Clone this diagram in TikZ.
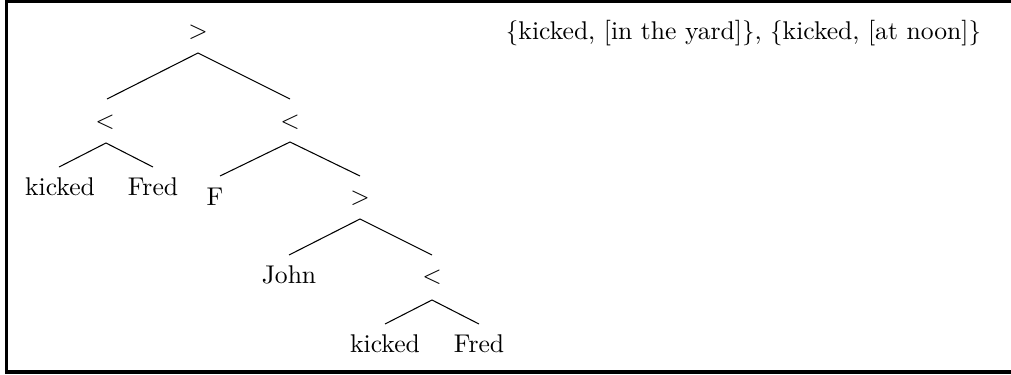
\documentclass[tikz,border=0pt]{standalone}
\begin{document}
\begin{tikzpicture}[x=0.4pt,y=-0.4pt,
  lbl/.style={inner sep=0pt, font=\fontsize{10.25}{12}\selectfont},
  edge/.style={line width=0.42pt},
  frame/.style={line width=1.3pt}]
\useasboundingbox (0,0) rectangle (1011,374);
\clip (0,0) rectangle (1011,374);
\draw[frame] (6.5,1.5) rectangle (1030,372);

% root
\node[lbl] (r) at (198,32) {$>$};
\coordinate (ra) at (198,53);
\node[lbl] (l1) at (105,122) {$<$};
\node[lbl] (r1) at (290,122) {$<$};
\coordinate (l1t) at (107,99);
\coordinate (r1t) at (290,99);
\draw[edge] (l1t) -- (ra) -- (r1t);

% left subtree
\coordinate (l1a) at (106,143);
\node[lbl] (k1) at (60,187) {kicked};
\node[lbl] (f1) at (153,187) {Fred};
\coordinate (k1t) at (59,167);
\coordinate (f1t) at (153,167);
\draw[edge] (k1t) -- (l1a) -- (f1t);

% right subtree
\coordinate (r1a) at (290,142);
\node[lbl] (F) at (215,197) {F};
\node[lbl] (g) at (360,198) {$>$};
\coordinate (Ft) at (220,176);
\coordinate (gt) at (360,176);
\draw[edge] (Ft) -- (r1a) -- (gt);

\coordinate (ga) at (360,219);
\node[lbl] (j) at (289,275) {John};
\node[lbl] (l2) at (432,277) {$<$};
\coordinate (jt) at (289,255);
\coordinate (l2t) at (432,255);
\draw[edge] (jt) -- (ga) -- (l2t);

\coordinate (l2a) at (432,300);
\node[lbl] (k2) at (385,344) {kicked};
\node[lbl] (f2) at (479,344) {Fred};
\coordinate (k2t) at (385,324);
\coordinate (f2t) at (479,324);
\draw[edge] (k2t) -- (l2a) -- (f2t);

% set annotation
\node[lbl] (s) at (743.5,33) {$\{$kicked, [in the yard]$\}$, $\{$kicked, [at noon]$\}$};
\end{tikzpicture}
\end{document}
